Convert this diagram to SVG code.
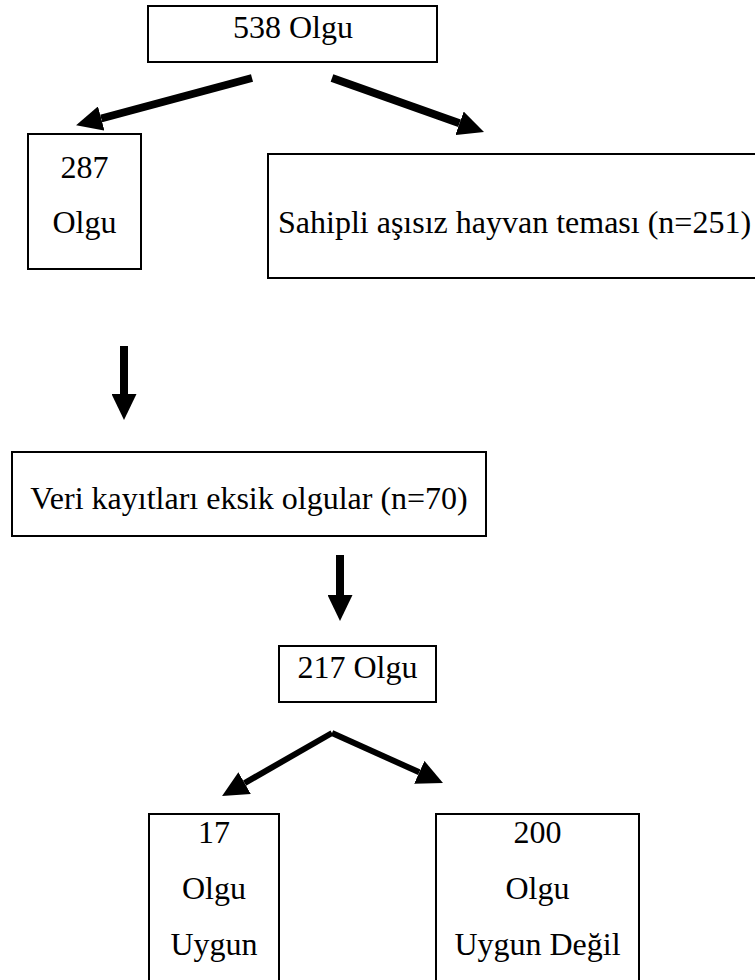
<svg xmlns="http://www.w3.org/2000/svg" width="755" height="980" viewBox="0 0 755 980">
<defs>
<style>
.box{fill:#fff;stroke:#000;stroke-width:2}
.t{font-family:"Liberation Serif","Times New Roman",serif;font-size:32px;fill:#000}
.c{text-anchor:middle}
.con{stroke:#000;fill:none;stroke-linecap:butt}
</style>
<marker id="ah" markerUnits="userSpaceOnUse" markerWidth="26" markerHeight="25" viewBox="0 0 26 25" refX="0" refY="12.5" orient="auto">
<path d="M0,0 L26,12.5 L0,25 z" fill="#000"/>
</marker>
</defs>
<rect width="755" height="980" fill="#fff"/>
<g id="connectors">
<line class="con" x1="252" y1="78" x2="101.2" y2="118.5" stroke-width="8" marker-end="url(#ah)"/>
<line class="con" x1="332" y1="78" x2="459.5" y2="123.3" stroke-width="8" marker-end="url(#ah)"/>
<line class="con" x1="124" y1="346" x2="124" y2="394" stroke-width="8" marker-end="url(#ah)"/>
<line class="con" x1="340" y1="555" x2="340" y2="595" stroke-width="8" marker-end="url(#ah)"/>
<line class="con" x1="332" y1="733" x2="244.6" y2="783.1" stroke-width="6" marker-end="url(#ah)"/>
<line class="con" x1="332" y1="733" x2="419.3" y2="772.3" stroke-width="6" marker-end="url(#ah)"/>
</g>
<g id="n538">
<rect class="box" x="148" y="6" width="289" height="56"/>
<text class="t c" x="293" y="38">538 Olgu</text>
</g>
<g id="n287">
<rect class="box" x="28" y="134" width="113" height="135"/>
<text class="t c" x="84.5" y="178">287</text>
<text class="t c" x="84.5" y="233">Olgu</text>
</g>
<g id="n251">
<rect class="box" x="268" y="154" width="500" height="124"/>
<text class="t" x="278" y="233">Sahipli aşısız hayvan teması (n=251)</text>
</g>
<g id="n70">
<rect class="box" x="12" y="452" width="474" height="84"/>
<text class="t c" x="249" y="509">Veri kayıtları eksik olgular (n=70)</text>
</g>
<g id="n217">
<rect class="box" x="279" y="646" width="157" height="56"/>
<text class="t c" x="357.5" y="678">217 Olgu</text>
</g>
<g id="n17">
<rect class="box" x="149" y="814" width="130" height="200"/>
<text class="t c" x="214" y="843">17</text>
<text class="t c" x="214" y="899">Olgu</text>
<text class="t c" x="214" y="955">Uygun</text>
</g>
<g id="n200">
<rect class="box" x="436" y="814" width="203" height="200"/>
<text class="t c" x="537.5" y="843">200</text>
<text class="t c" x="537.5" y="899">Olgu</text>
<text class="t c" x="537.5" y="955">Uygun Değil</text>
</g>
</svg>
